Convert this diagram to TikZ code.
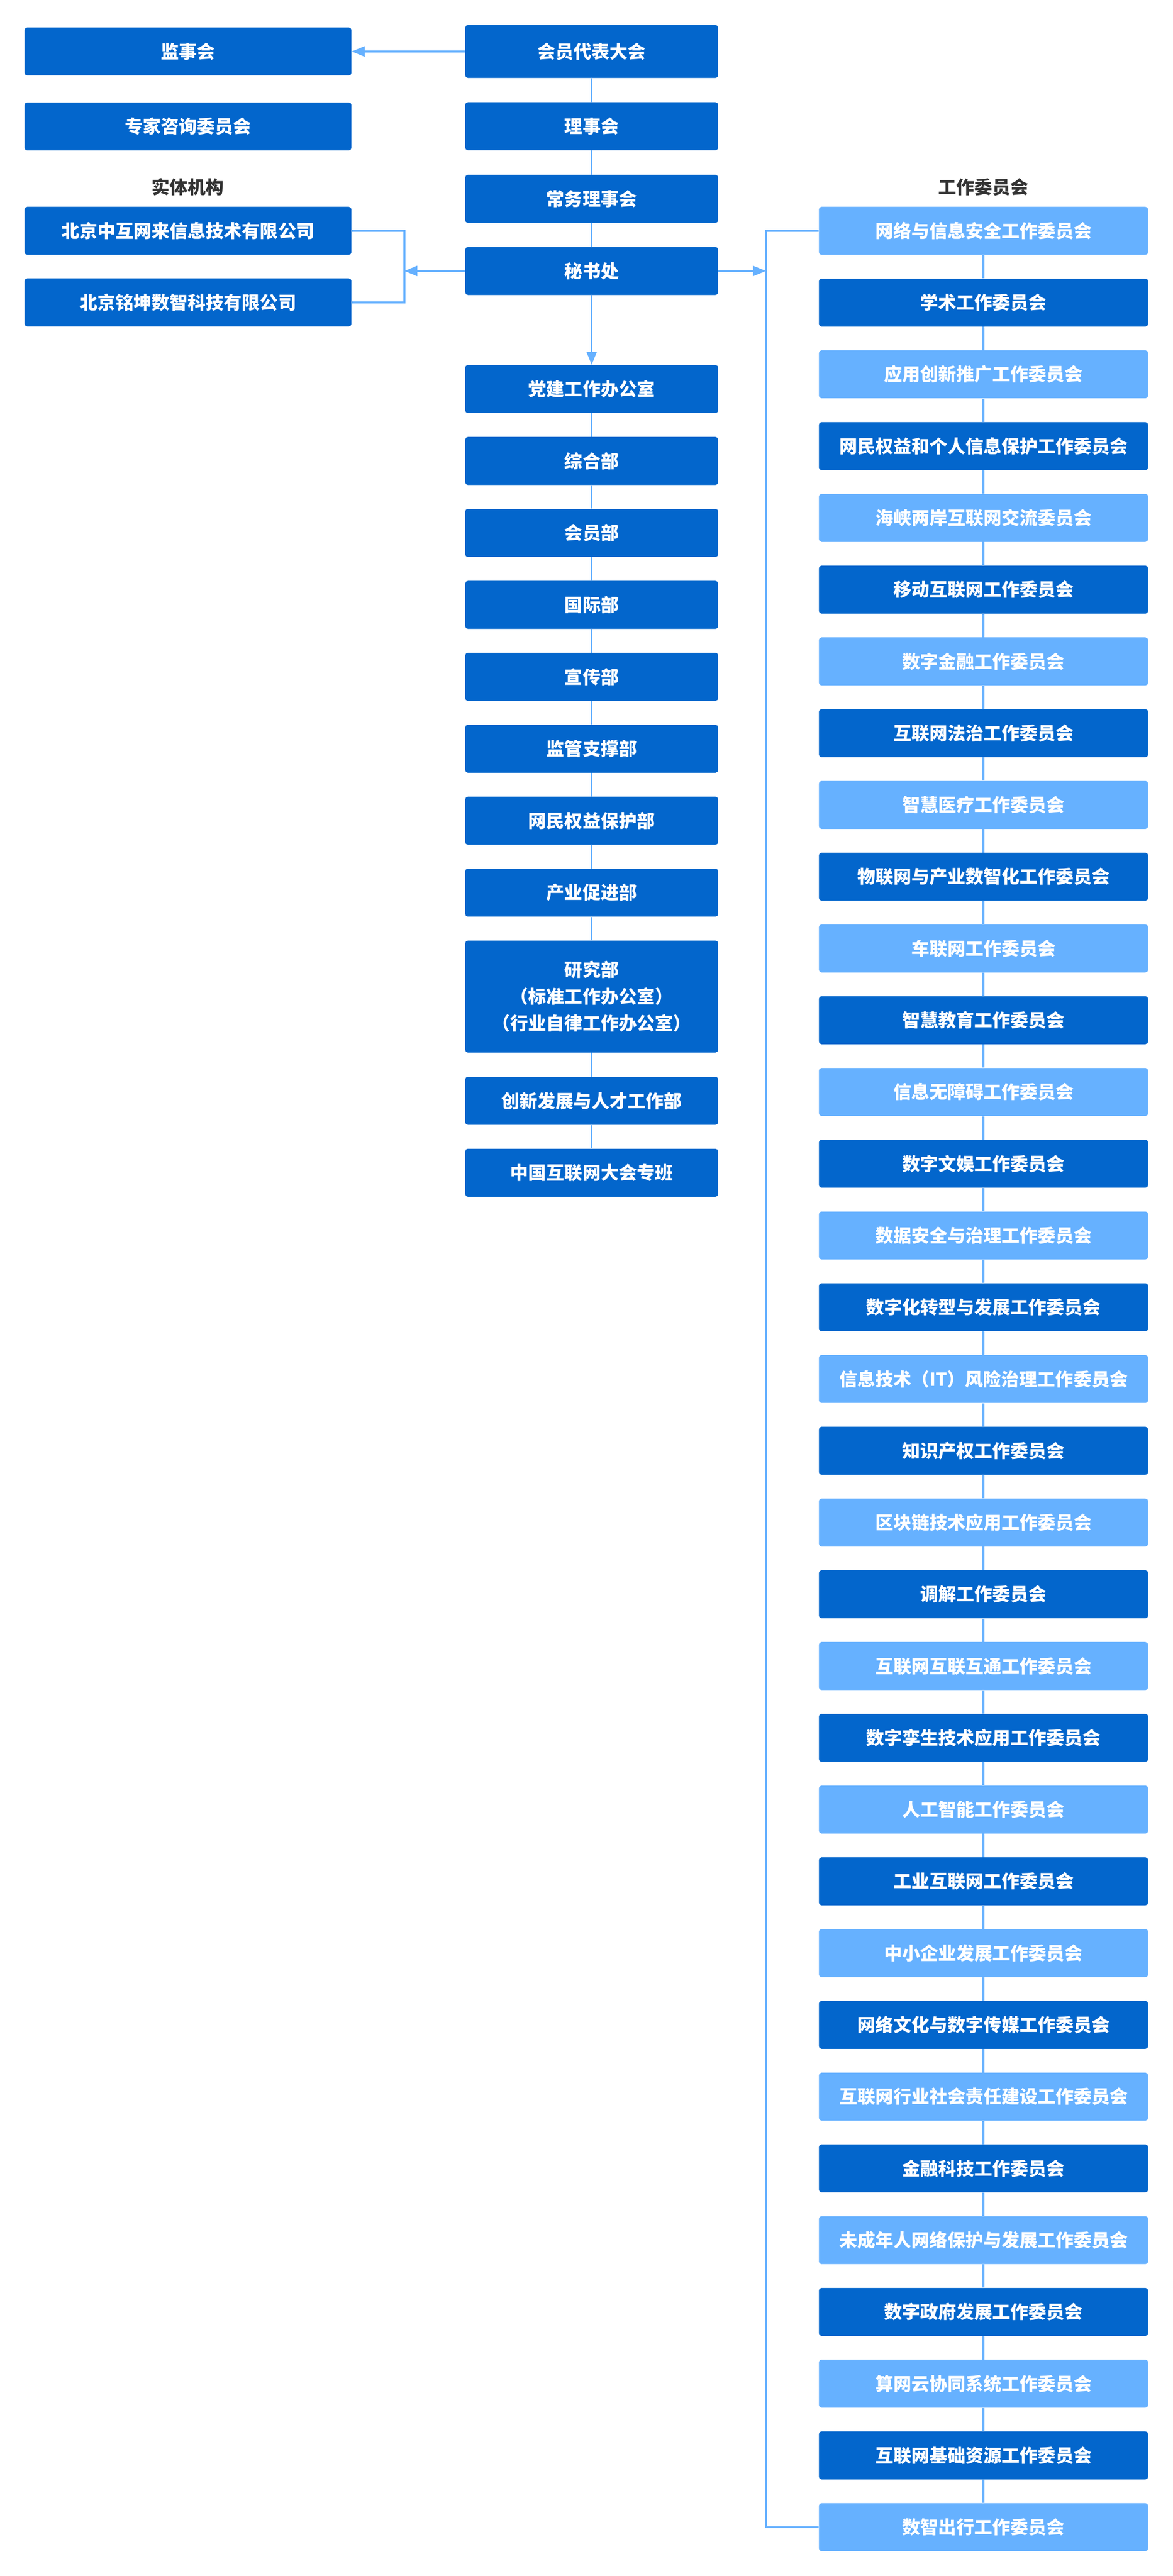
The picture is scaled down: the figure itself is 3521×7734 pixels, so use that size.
\documentclass[tikz,border=0pt]{standalone}
\usepackage{fontspec}
\setmainfont{Noto Sans CJK SC}
\usetikzlibrary{arrows.meta}
\definecolor{dk}{HTML}{0366CC}
\definecolor{lt}{HTML}{66B1FF}
\definecolor{lblc}{HTML}{333333}
\begin{document}
\begin{tikzpicture}[x=0.01cm,y=-0.01cm,
  box/.style={rectangle, rounded corners=0.08cm, text=white, font=\bfseries\fontsize{15.4pt}{23pt}\selectfont, minimum height=1.44cm, inner sep=0pt, align=center},
  cw/.style={minimum width=7.59cm},
  lw/.style={minimum width=9.81cm},
  rw/.style={minimum width=9.88cm},
  conn/.style={draw=lt, line width=0.06cm},
  arr/.style={conn, -{Triangle[length=0.39cm,width=0.3cm]}},
  lbl/.style={text=lblc, font=\bfseries\fontsize{15.4pt}{18pt}\selectfont, inner sep=0pt}]
\useasboundingbox (0,0) rectangle (3521,7734);
% left column
\node[box, lw, fill=dk] (jsh) at (564.5,154.5) {监事会};
\node[box, lw, fill=dk] (zj) at (564.5,379.5) {专家咨询委员会};
\node[lbl] (stjg) at (564.5,562) {实体机构};
\node[box, lw, fill=dk] (bj1) at (564.5,693) {北京中互网来信息技术有限公司};
\node[box, lw, fill=dk] (bj2) at (564.5,908) {北京铭坤数智科技有限公司};
% center column
\node[box, cw, fill=dk, minimum height=1.59cm] (hy) at (1776.5,154.5) {会员代表大会};
\node[box, cw, fill=dk] (lsh) at (1776.5,379) {理事会};
\node[box, cw, fill=dk] (cw) at (1776.5,597) {常务理事会};
\node[box, cw, fill=dk] (msc) at (1776.5,813.5) {秘书处};
\node[box, cw, fill=dk] (c1) at (1776.5,1168) {党建工作办公室};
\node[box, cw, fill=dk] (c2) at (1776.5,1384) {综合部};
\node[box, cw, fill=dk] (c3) at (1776.5,1600) {会员部};
\node[box, cw, fill=dk] (c4) at (1776.5,1816) {国际部};
\node[box, cw, fill=dk] (c5) at (1776.5,2032) {宣传部};
\node[box, cw, fill=dk] (c6) at (1776.5,2248) {监管支撑部};
\node[box, cw, fill=dk] (c7) at (1776.5,2464) {网民权益保护部};
\node[box, cw, fill=dk] (c8) at (1776.5,2680) {产业促进部};
\node[box, cw, fill=dk, minimum height=3.36cm] (c9) at (1776.5,2992) {研究部\\（标准工作办公室）\\（行业自律工作办公室）};
\node[box, cw, fill=dk] (c10) at (1776.5,3305) {创新发展与人才工作部};
\node[box, cw, fill=dk] (c11) at (1776.5,3521) {中国互联网大会专班};
% right column
\node[lbl] (gzwy) at (2953,562) {工作委员会};
\foreach \t [count=\i] in {网络与信息安全工作委员会,学术工作委员会,应用创新推广工作委员会,网民权益和个人信息保护工作委员会,海峡两岸互联网交流委员会,移动互联网工作委员会,数字金融工作委员会,互联网法治工作委员会,智慧医疗工作委员会,物联网与产业数智化工作委员会,车联网工作委员会,智慧教育工作委员会,信息无障碍工作委员会,数字文娱工作委员会,数据安全与治理工作委员会,数字化转型与发展工作委员会,信息技术（IT）风险治理工作委员会,知识产权工作委员会,区块链技术应用工作委员会,调解工作委员会,互联网互联互通工作委员会,数字孪生技术应用工作委员会,人工智能工作委员会,工业互联网工作委员会,中小企业发展工作委员会,网络文化与数字传媒工作委员会,互联网行业社会责任建设工作委员会,金融科技工作委员会,未成年人网络保护与发展工作委员会,数字政府发展工作委员会,算网云协同系统工作委员会,互联网基础资源工作委员会,数智出行工作委员会}{
  \pgfmathsetmacro{\yy}{693+(\i-1)*215.45}
  \pgfmathparse{mod(\i,2)==1?"lt":"dk"}\let\col\pgfmathresult
  \node[box, rw, fill=\col] (r\i) at (2953,\yy) {\t};
}
% connectors center
\draw[arr] (hy.west) -- (jsh.east);
\draw[conn] (hy.south) -- (lsh.north);
\draw[conn] (lsh.south) -- (cw.north);
\draw[conn] (cw.south) -- (msc.north);
\draw[arr] (msc.south) -- (c1.north);
\foreach \a/\b in {1/2,2/3,3/4,4/5,5/6,6/7,7/8,8/9,9/10,10/11}{
  \draw[conn] (c\a.south) -- (c\b.north);
}
% left bracket
\coordinate (lbT) at (1214,693);
\coordinate (lbB) at (1214,908);
\coordinate (lbM) at (1214,813.5);
\draw[conn] (bj1.east) -- (lbT) -- (lbB) -- (bj2.east);
\draw[arr] (msc.west) -- (lbM);
% right bracket
\coordinate (rbT) at (2300,693);
\coordinate (rbB) at (2300,7587.4);
\coordinate (rbM) at (2300,813.5);
\draw[conn] (r1.west) -- (rbT) -- (rbB) -- (r33.west);
\draw[arr] (msc.east) -- (rbM);
\foreach \i in {1,...,32}{
  \pgfmathtruncatemacro{\j}{\i+1}
  \draw[conn] (r\i.south) -- (r\j.north);
}
\end{tikzpicture}
\end{document}
